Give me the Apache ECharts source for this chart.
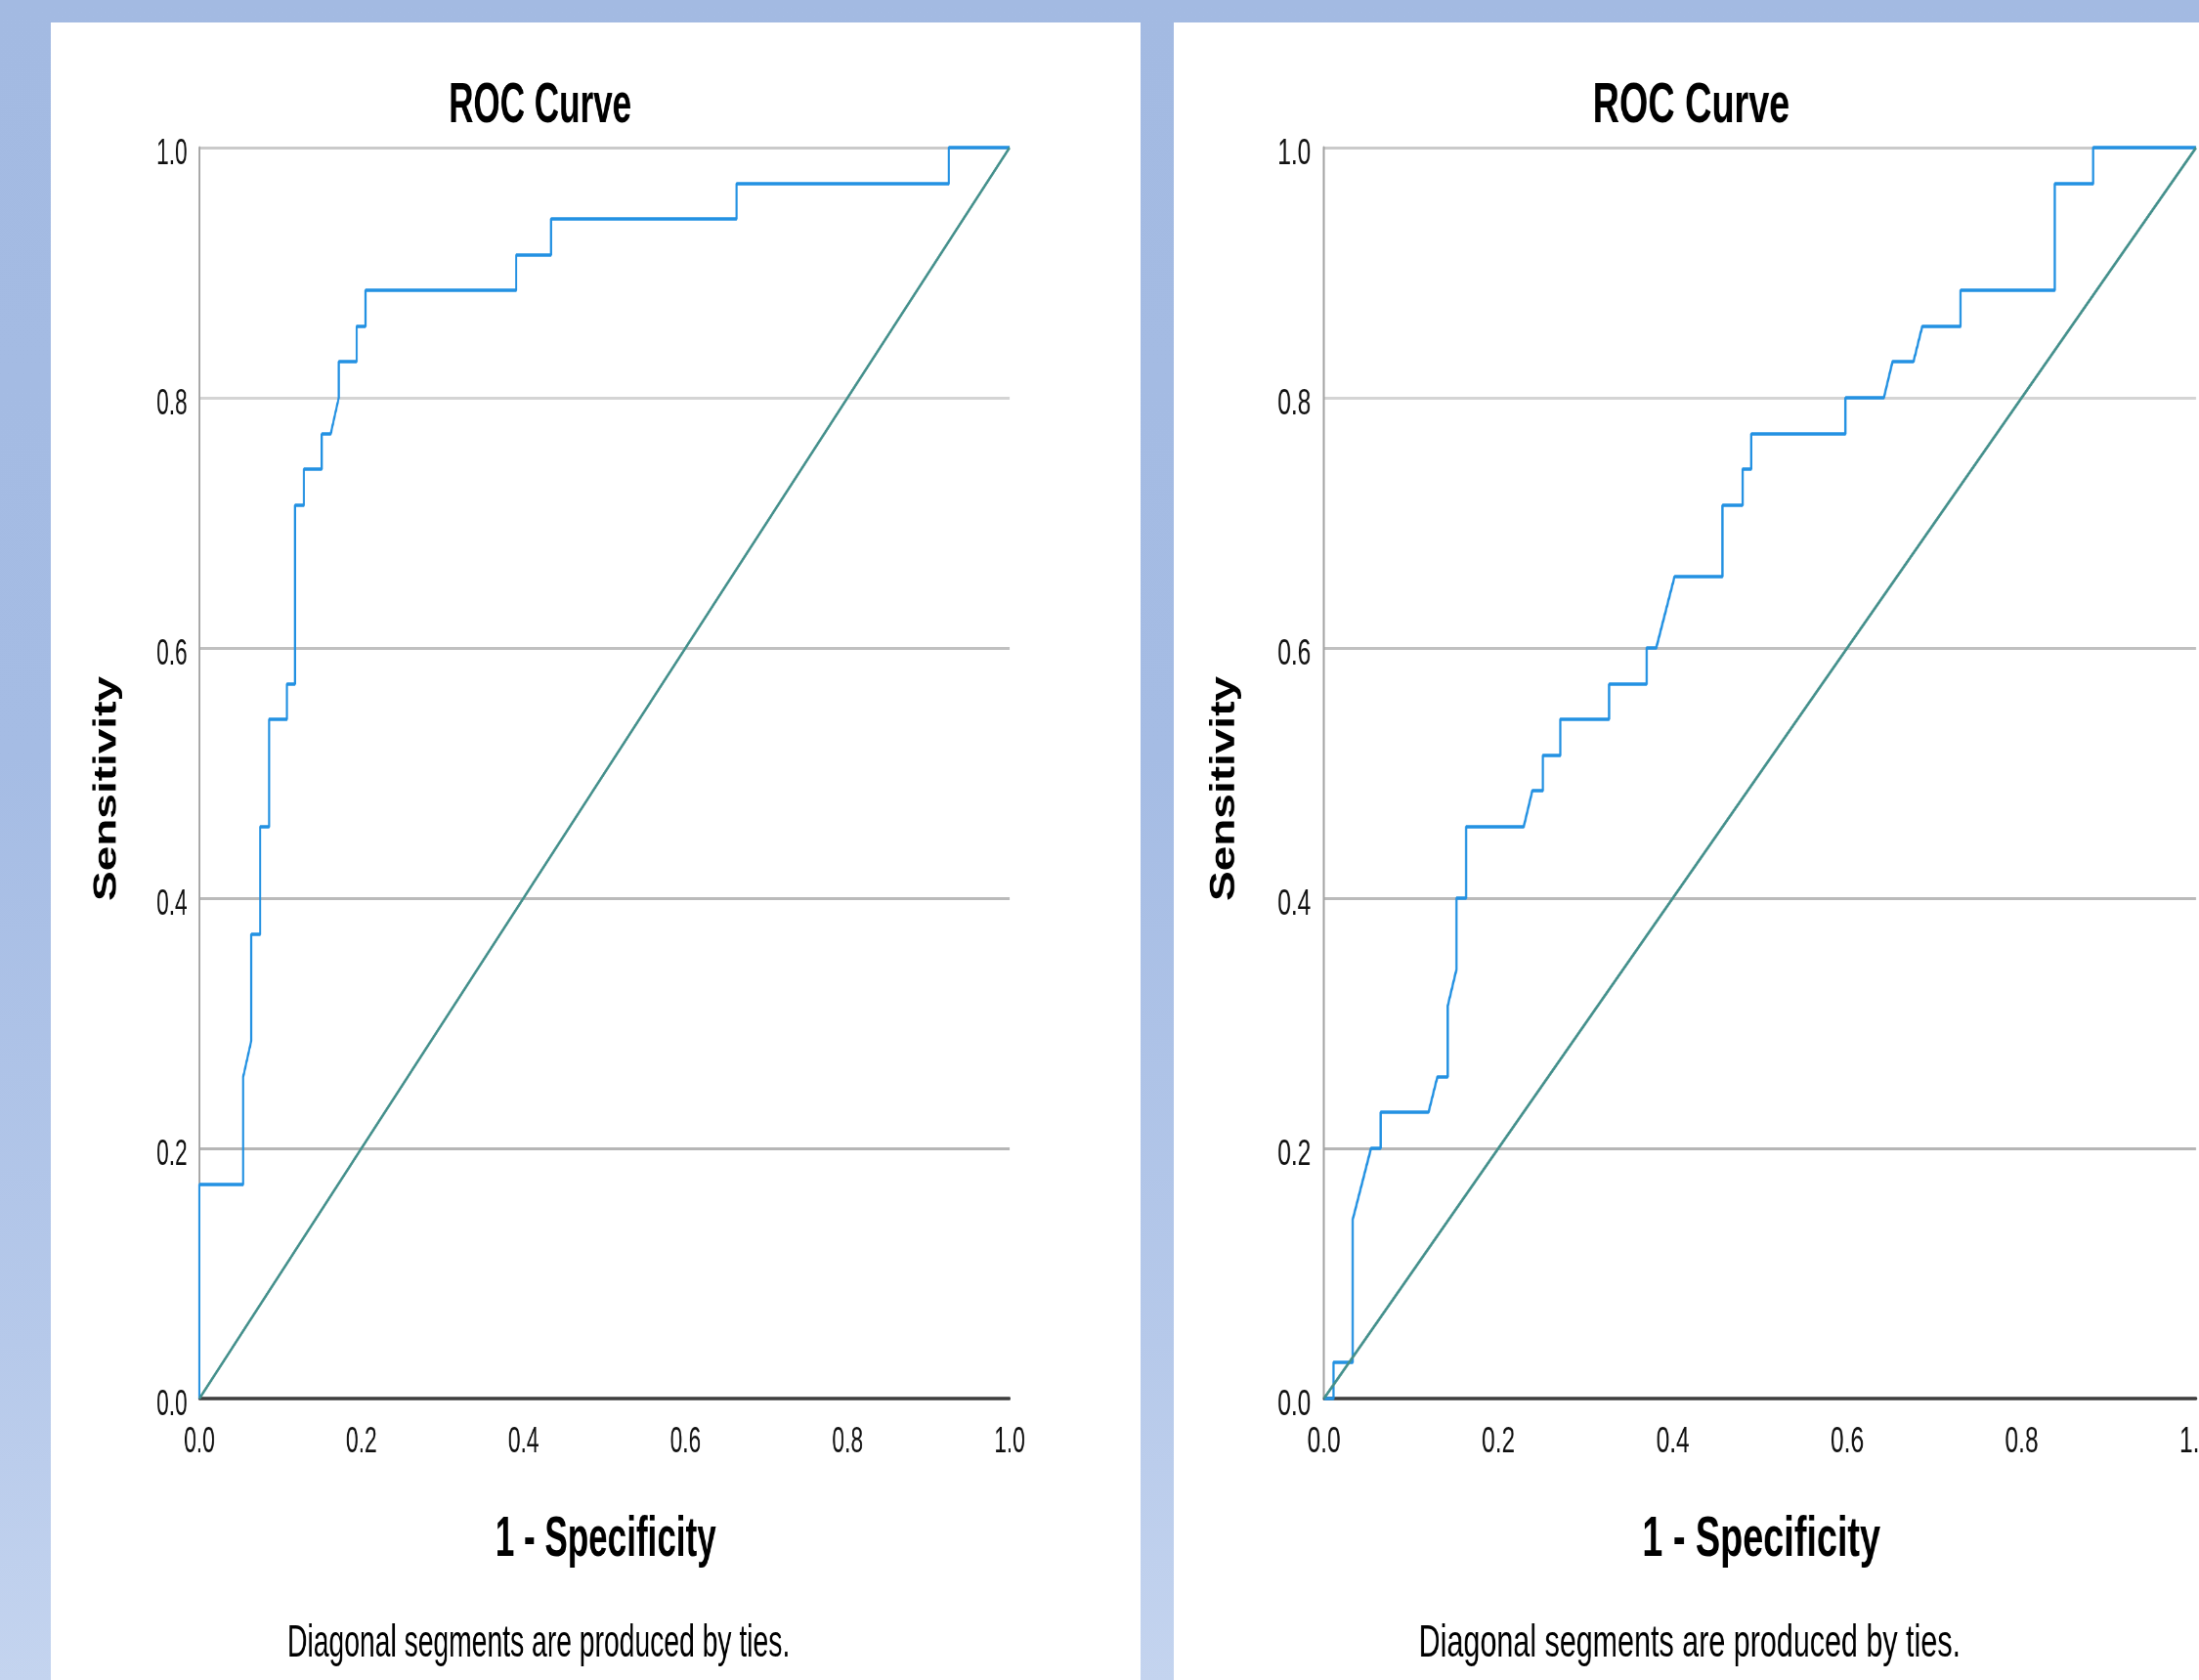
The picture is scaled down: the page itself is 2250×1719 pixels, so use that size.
<!DOCTYPE html>
<html>
<head>
<meta charset="utf-8">
<script src="https://cdn.jsdelivr.net/npm/echarts@6/dist/echarts.min.js"></script>
<style>
  html, body { margin: 0; padding: 0; width: 2250px; height: 1719px; overflow: hidden; }
  body { background: linear-gradient(to bottom, #a3bae2 0%, #a5bce4 45%, #b6c9ea 80%, #c4d4ef 100%); position: relative; }
  .panel { position: absolute; top: 23px; height: 1696px; overflow: hidden; background: #fff; }
  .inner { position: absolute; left: 0; top: 0; height: 1696px; transform-origin: 0 0; }
</style>
</head>
<body>
<div class="panel" id="pL" style="left:52px;width:1115px;"><div class="inner" id="cL"></div></div>
<div class="panel" id="pR" style="left:1201px;width:1049px;"><div class="inner" id="cR"></div></div>
<script>
// ---------------- data ----------------
const tickLabels = ['0.0', '0.2', '0.4', '0.6', '0.8', '1.0'];
const chartTitle = 'ROC Curve';
const xAxisTitle = '1 - Specificity';
const yAxisTitle = 'Sensitivity';
const footnote = 'Diagonal segments are produced by ties.';

// left chart ROC curve (1 - specificity, sensitivity)
const leftFpr = [0, 0, 0.054, 0.054, 0.064, 0.064, 0.075, 0.075, 0.086, 0.086,
  0.108, 0.108, 0.118, 0.118, 0.129, 0.129, 0.151, 0.151, 0.162, 0.172,
  0.172, 0.194, 0.194, 0.205, 0.205, 0.391, 0.391, 0.434, 0.434, 0.663,
  0.663, 0.925, 0.925, 1];
const leftTpr = [0, 0.171, 0.171, 0.257, 0.286, 0.371, 0.371, 0.457, 0.457, 0.543,
  0.543, 0.571, 0.571, 0.714, 0.714, 0.743, 0.743, 0.771, 0.771, 0.800,
  0.829, 0.829, 0.857, 0.857, 0.886, 0.886, 0.914, 0.914, 0.943, 0.943,
  0.971, 0.971, 1, 1];

// right chart ROC curve
const rightFpr = [0, 0.011, 0.011, 0.033, 0.033, 0.054, 0.065, 0.065, 0.120, 0.130,
  0.142, 0.142, 0.152, 0.152, 0.163, 0.163, 0.229, 0.239, 0.251, 0.251,
  0.271, 0.271, 0.327, 0.327, 0.370, 0.370, 0.381, 0.402, 0.457, 0.457,
  0.480, 0.480, 0.490, 0.490, 0.598, 0.598, 0.642, 0.652, 0.676, 0.686,
  0.730, 0.730, 0.838, 0.838, 0.882, 0.882, 1];
const rightTpr = [0, 0, 0.029, 0.029, 0.143, 0.200, 0.200, 0.229, 0.229, 0.257,
  0.257, 0.314, 0.343, 0.400, 0.400, 0.457, 0.457, 0.486, 0.486, 0.514,
  0.514, 0.543, 0.543, 0.571, 0.571, 0.600, 0.600, 0.657, 0.657, 0.714,
  0.714, 0.743, 0.743, 0.771, 0.771, 0.800, 0.800, 0.829, 0.829, 0.857,
  0.857, 0.886, 0.886, 0.971, 0.971, 1, 1];

// reference (chance) line
const refX = [0, 1];
const refY = [0, 1];

// ---------------- chart builder ----------------
const FONT = '"Liberation Sans", Arial, Helvetica, sans-serif';

function zip(a, b) { return a.map((v, i) => [v, b[i]]); }

function makeChart(domId, cfg) {
  const el = document.getElementById(domId);
  const innerW = cfg.panelW / cfg.sx;
  el.style.width = innerW + 'px';
  el.style.transform = 'scaleX(' + cfg.sx + ')';
  const chart = echarts.init(el, null, { renderer: 'canvas' });
  const gridCx = cfg.gridLeft + cfg.gridW / 2;
  const txt = (text, x, y, font, rot, sy) => ({
    type: 'text', x: x, y: y, rotation: rot || 0, scaleY: sy || 1, silent: true,
    style: { text: text, font: font, fill: '#000',
      textAlign: 'center', textVerticalAlign: 'middle', align: 'center', verticalAlign: 'middle' }
  });
  const option = {
    backgroundColor: '#ffffff',
    animation: false,
    grid: { left: cfg.gridLeft, top: 128, width: cfg.gridW, height: 1280, containLabel: false, outerBoundsMode: 'none' },
    xAxis: {
      type: 'value', min: 0, max: 1, interval: 0.2,
      axisLine: { show: true, onZero: false, lineStyle: { color: '#3d3d3d', width: 3.5 } },
      axisTick: { show: false },
      splitLine: { show: false },
      axisLabel: { fontSize: 37, fontFamily: FONT, color: '#111', margin: 26, hideOverlap: false,
        formatter: (v) => tickLabels[Math.round(v * 5)] }
    },
    yAxis: {
      type: 'value', min: 0, max: 1, interval: 0.2,
      axisLine: { show: true, onZero: false, lineStyle: { color: '#a2a2a2', width: 3 } },
      axisTick: { show: false },
      splitLine: { show: true, lineStyle: { color: ['#ffffff', '#b6b6b6', '#bababa', '#c0c0c0', '#d4d4d4', '#cacaca'], width: 3 } },
      axisLabel: { fontSize: 37, fontFamily: FONT, color: '#111', margin: 20,
        verticalAlign: 'top', lineHeight: 14,
        formatter: (v) => tickLabels[Math.round(v * 5)] }
    },
    series: [
      {
        type: 'line', data: zip(cfg.fpr, cfg.tpr), showSymbol: false, symbol: 'none', clip: false,
        lineStyle: { color: '#2391e2', width: 3.5 }, z: 3
      },
      {
        type: 'line', data: zip(refX, refY), showSymbol: false, symbol: 'none', clip: false,
        lineStyle: { color: '#44908c', width: 3.4 }, z: 4
      }
    ],
    graphic: [
      txt(chartTitle, cfg.gridLeft + 566.8, 86, 'bold 57px ' + FONT),
      txt(xAxisTitle, gridCx + 2, 1553.5, 'bold 57px ' + FONT),
      txt(yAxisTitle, cfg.gridLeft - 154, 784, 'bold 46px ' + FONT, Math.PI / 2, 1.18),
      txt(footnote, cfg.gridLeft + 564.4, 1659, '46px ' + FONT)
    ]
  };
  chart.setOption(option);
  return chart;
}

makeChart('cL', { panelW: 1115, sx: 0.615, gridLeft: 247.2, gridW: 1347.9, fpr: leftFpr, tpr: leftTpr });
makeChart('cR', { panelW: 1049, sx: 0.663, gridLeft: 231.7, gridW: 1346.0, fpr: rightFpr, tpr: rightTpr });
</script>
</body>
</html>
